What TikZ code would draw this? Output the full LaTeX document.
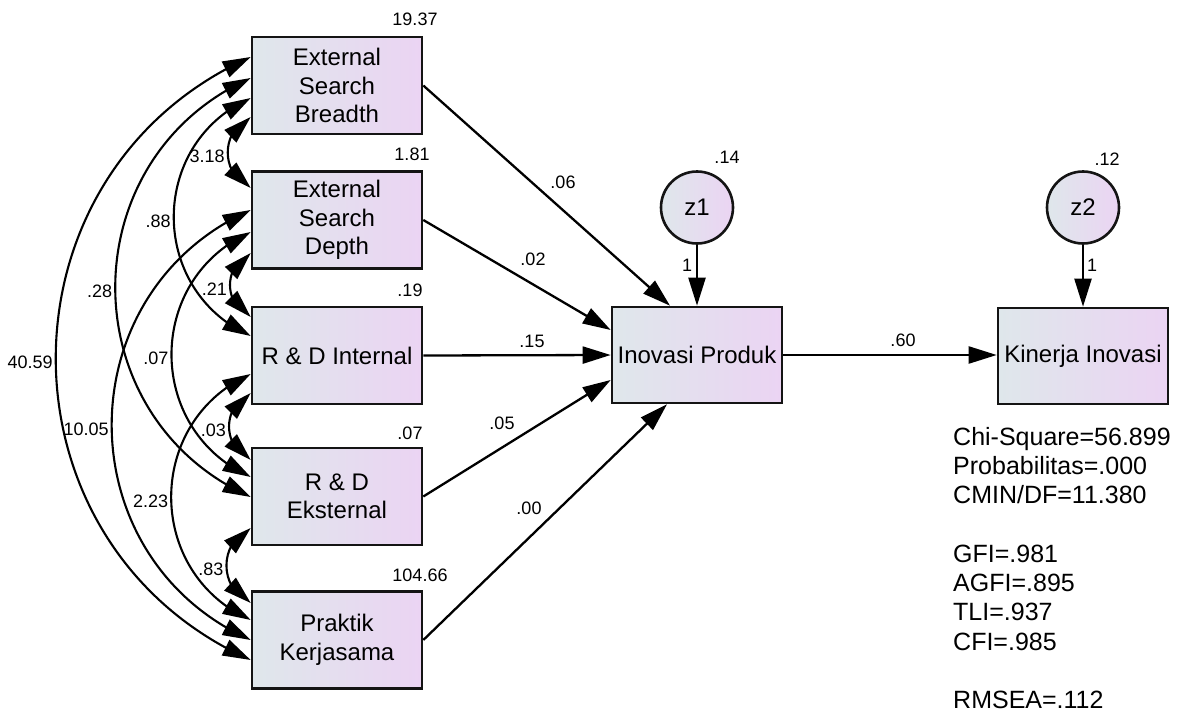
\documentclass[tikz,border=0pt]{standalone}
\usepackage{fontspec}
\setmainfont{Liberation Sans}
\usetikzlibrary{arrows.meta,bending}
\definecolor{boxL}{RGB}{223,231,235}
\definecolor{boxR}{RGB}{235,212,243}
\definecolor{edge}{RGB}{20,20,20}
\begin{document}
\begin{tikzpicture}[x=1pt,y=1pt,
  obs/.style={draw=edge, line width=2.6pt, minimum width=170pt, minimum height=97pt, inner sep=0pt, align=center, left color=boxL, right color=boxR, font=\fontsize{24}{28.5}\selectfont},
  err/.style={circle, draw=edge, line width=2.6pt, minimum size=72pt, inner sep=0pt, left color=boxL, right color=boxR, font=\fontsize{24}{28}\selectfont},
  lab/.style={font=\fontsize{18}{20}\selectfont, inner sep=1pt},
  clab/.style={lab, anchor=east, yshift=-4pt, inner sep=2pt},
  stat/.style={anchor=base west, inner sep=0pt, font=\fontsize{25}{29}\selectfont},
  >={Triangle[length=28pt,width=17pt]},
  reg/.style={->, line width=2.3pt, draw=black},
  cov/.style={<->, line width=2.1pt, draw=black, out=204, in=156, looseness=1.21},
]
\useasboundingbox (0,0) rectangle (1194,-717);

% observed variables
\node[obs] (esb) at (337,-85.5) {External\\Search\\Breadth};
\node[obs] (esd) at (337,-220) {External\\Search\\Depth};
\node[obs] (rdi) at (337,-355.5) {R \& D Internal};
\node[obs] (rde) at (337,-496.5) {R \& D\\Eksternal};
\node[obs] (pk)  at (337,-640) {Praktik\\Kerjasama};
\node[obs, minimum height=96pt] (ip) at (697,-355) {Inovasi Produk};
\node[obs, minimum height=96pt] (ki) at (1083,-356) {Kinerja Inovasi};
\node[err] (z1) at (697,-207.5) {z1};
\node[err] (z2) at (1083,-207.5) {z2};

% variances
\node[lab] (v1) at (415,-19) {19.37};
\node[lab] (v2) at (412,-154) {1.81};
\node[lab] (v3) at (410,-290) {.19};
\node[lab] (v4) at (410,-433) {.07};
\node[lab] (v5) at (420,-575) {104.66};
\node[lab] (v6) at (727,-157) {.14};
\node[lab] (v7) at (1107,-159) {.12};

% regressions
\draw[reg] (esb.east) -- ([xshift=-27pt]ip.north);
\draw[reg] (esd.east) -- ([yshift=25pt]ip.west);
\draw[reg] (rdi.east) -- (ip.west);
\draw[reg] (rde.east) -- ([yshift=-25pt]ip.west);
\draw[reg] (pk.east) -- ([xshift=-30pt]ip.south);
\draw[reg] (ip.east) -- (ip.east -| ki.west);
\draw[reg] (z1.south) -- (ip.north);
\draw[reg] (z2.south) -- (ki.north);

\node[lab] (r1) at (563,-182) {.06};
\node[lab] (r2) at (533,-259) {.02};
\node[lab] (r3) at (532,-341) {.15};
\node[lab] (r4) at (502,-423) {.05};
\node[lab] (r5) at (529,-508) {.00};
\node[lab] (r6) at (903,-340) {.60};
\node[lab] (o1) at (687,-265) {1};
\node[lab] (o2) at (1092,-265) {1};

% covariances
\draw[cov] ([yshift=28.5pt]esb.west) to node[clab] (c1) {40.59} ([yshift=-20pt]pk.west);
\draw[cov] ([yshift=7.5pt]esb.west) to node[clab] (c2) {.28} ([yshift=-0.5pt]rde.west);
\draw[cov] ([yshift=-12.5pt]esb.west) to node[clab] (c3) {.88} ([yshift=19.5pt]rdi.west);
\draw[cov] ([yshift=-31.5pt]esb.west) to node[clab] (c4) {3.18} ([yshift=32pt]esd.west);
\draw[cov] ([yshift=10pt]esd.west) to node[clab] (c5) {10.05} ([yshift=0pt]pk.west);
\draw[cov] ([yshift=-12pt]esd.west) to node[clab] (c6) {.07} ([yshift=19.5pt]rde.west);
\draw[cov] ([yshift=-33pt]esd.west) to node[clab] (c7) {.21} ([yshift=38.5pt]rdi.west);
\draw[cov] ([yshift=-18.5pt]rdi.west) to node[clab] (c8) {2.23} ([yshift=20pt]pk.west);
\draw[cov] ([yshift=-37.5pt]rdi.west) to node[clab] (c9) {.03} ([yshift=36.5pt]rde.west);
\draw[cov] ([yshift=-31.5pt]rde.west) to node[clab] (c10) {.83} ([yshift=37pt]pk.west);

% fit statistics
\node[stat] (s1) at (953,-445) {Chi-Square=56.899};
\node[stat] (s2) at (953,-474.3) {Probabilitas=.000};
\node[stat] (s3) at (953,-503.6) {CMIN/DF=11.380};
\node[stat] (s4) at (953,-562.2) {GFI=.981};
\node[stat] (s5) at (953,-591.5) {AGFI=.895};
\node[stat] (s6) at (953,-620.8) {TLI=.937};
\node[stat] (s7) at (953,-650.1) {CFI=.985};
\node[stat] (s8) at (953,-708.7) {RMSEA=.112};
\end{tikzpicture}
\end{document}
